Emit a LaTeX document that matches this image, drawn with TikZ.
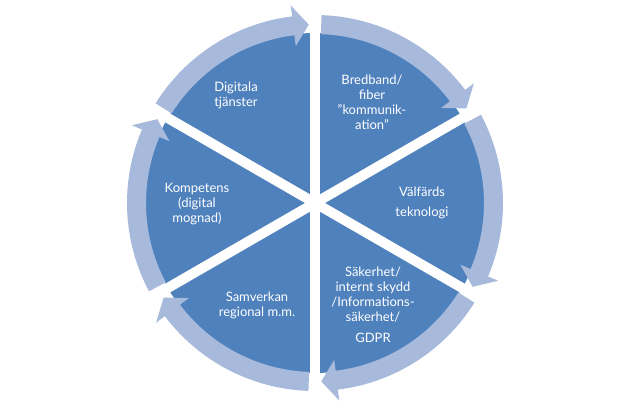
\documentclass[tikz,border=0pt]{standalone}
\usepackage{fontspec}
\setmainfont{Lato}
\definecolor{darkb}{HTML}{4F81BD}
\definecolor{lightb}{HTML}{A7BADB}
\newcommand\cycarrow[2]{%
  \fill[lightb] ({#1}:188) arc[start angle={#1}, end angle={#2+5}, radius=188]
    -- ({#2+5}:199) -- ({#2}:178.5) -- ({#2+5}:158) -- ({#2+5}:169)
    arc[start angle={#2+5}, end angle={#1}, radius=169] -- cycle;}
\begin{document}
\begin{tikzpicture}[x=1pt,y=1pt,
  lbl/.style={text=white, align=center, inner sep=0pt, font=\fontsize{13}{15}\selectfont},
  sep/.style={draw=white, line width=10pt}]
\useasboundingbox (-315,-207) rectangle (315,203);
\fill[darkb] (0,0) circle[radius=170];
\foreach \a in {30,90,150,210,270,330}
  \draw[sep] (0,0) -- (\a:176);
\cycarrow{88}{32}
\cycarrow{28}{-28}
\cycarrow{-32}{-88}
\cycarrow{-92}{-148}
\cycarrow{-152}{-208}
\cycarrow{148}{92}
\node[lbl] (dig) at (-79,108) {Digitala\\tjänster};
\node[lbl] (bred) at (57,101) {Bredband/\\fiber\\"kommunik-\\ation"};
\node[lbl] (komp) at (-118,-1) {Kompetens\\(digital\\mognad)};
\node[lbl] (valf) at (107,0) {Välfärds\\[5pt]teknologi};
\node[lbl] (samv) at (-58,-102) {Samverkan\\regional m.m.};
\node[lbl] (sak) at (58,-102) {Säkerhet/\\internt skydd\\/Informations-\\säkerhet/\\[6pt]GDPR};
\end{tikzpicture}
\end{document}
